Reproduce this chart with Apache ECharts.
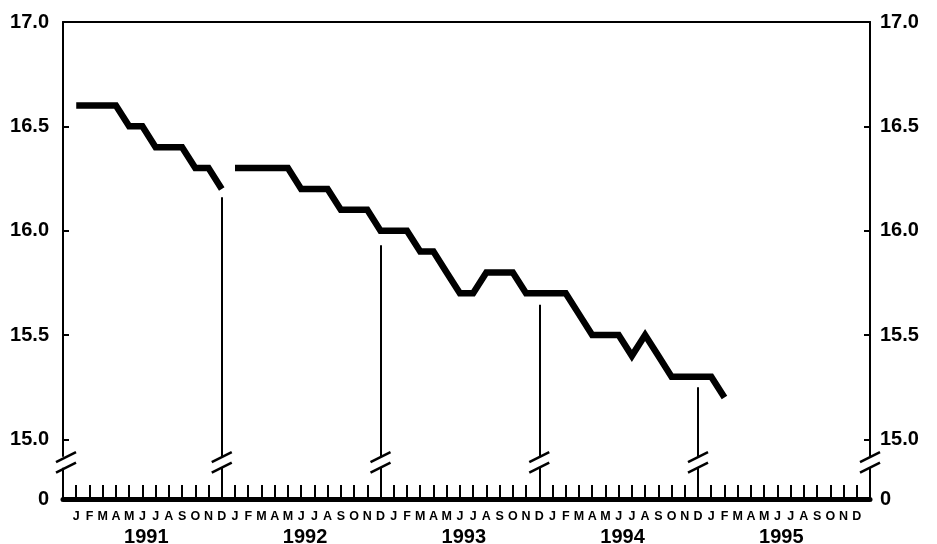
<!DOCTYPE html>
<html>
<head>
<meta charset="utf-8">
<script src="https://cdn.jsdelivr.net/npm/echarts@6/dist/echarts.min.js"></script>
<style>
html,body{margin:0;padding:0;background:#fff;}
#c{width:937px;height:544px;}
</style>
</head>
<body>
<div id="c"></div>
<script>
// ---- data (month index: 1 = Jan 1991 ... 60 = Dec 1995) ----
var monthLetters = ['J','F','M','A','M','J','J','A','S','O','N','D'];
var years = ['1991','1992','1993','1994','1995'];
var values1991 = [16.6,16.6,16.6,16.6,16.5,16.5,16.4,16.4,16.4,16.3,16.3,16.2];
var values1992 = [16.3,16.3,16.3,16.3,16.3,16.2,16.2,16.2,16.1,16.1,16.1,16.0];
var values1993 = [16.0,16.0,15.9,15.9,15.8,15.7,15.7,15.8,15.8,15.8,15.7,15.7];
var values1994 = [15.7,15.7,15.6,15.5,15.5,15.5,15.4,15.5,15.4,15.3,15.3,15.3];
var values1995 = [15.3,15.2];
var yTicks = [15.0,15.5,16.0,16.5,17.0];
var dividerMonths = [12,24,36,48];
var dividerTops = [16.16,15.93,15.645,15.25];
var breakMonths = [0,12,24,36,48,61];
var breakValue = 14.89;

// ---- scales ----
var yMax = 17.0;
var yMin = 14.714;   // position of the "0" baseline below the break
var xMin = 0, xMax = 61;

function toPairs(vals, startIdx){
  return vals.map(function(v,i){ return [startIdx + i, v]; });
}
var s1 = toPairs(values1991, 1);
var s2 = toPairs([].concat(values1992, values1993, values1994, values1995), 13);

var monthTicks = [];
for (var m = 1; m <= 60; m++) monthTicks.push(m);
var yearPos = years.map(function(y,i){ return 6.3 + 12*i; });

var font = '"Liberation Sans", Arial, sans-serif';

var chart = echarts.init(document.getElementById('c'), null, {renderer:'canvas'});

var dividerLines = dividerMonths.map(function(m,i){
  return [{coord:[m, dividerTops[i]]},{coord:[m, yMin]}];
});

var option = {
  animation:false,
  backgroundColor:'#fff',
  grid:{left:63, right:67, top:22, bottom:45, containLabel:false, outerBoundsMode:'none'},
  xAxis:[
    {
      type:'value', min:xMin, max:xMax, position:'bottom',
      axisLine:{show:true, onZero:false, lineStyle:{color:'#000', width:5}},
      axisTick:{show:true, inside:true, length:14, customValues:monthTicks, lineStyle:{color:'#000', width:2}},
      axisLabel:{show:true, customValues:monthTicks, margin:11,
        fontFamily:font, fontWeight:'bold', fontSize:12.5, color:'#000',
        formatter:function(v){ return monthLetters[(Math.round(v)-1)%12]; }},
      splitLine:{show:false}
    },
    {
      type:'value', min:xMin, max:xMax, position:'bottom',
      axisLine:{show:false}, axisTick:{show:false},
      axisLabel:{show:true, customValues:yearPos, margin:28,
        fontFamily:font, fontWeight:'bold', fontSize:20, color:'#000',
        formatter:function(v){ return years[Math.round((v-6.3)/12)]; }},
      splitLine:{show:false}
    },
    {
      type:'value', min:xMin, max:xMax, position:'top',
      axisLine:{show:true, onZero:false, lineStyle:{color:'#000', width:2}},
      axisTick:{show:false}, axisLabel:{show:false}, splitLine:{show:false}
    }
  ],
  yAxis:[
    {
      type:'value', min:yMin, max:yMax, position:'left',
      axisLine:{show:true, onZero:false, lineStyle:{color:'#000', width:2}},
      axisTick:{show:true, inside:true, length:6, customValues:yTicks, lineStyle:{color:'#000', width:2}},
      axisLabel:{show:true, customValues:[yMin].concat(yTicks), margin:14,
        fontFamily:font, fontWeight:'bold', fontSize:20, color:'#000',
        formatter:function(v){ return v < 14.95 ? '0' : v.toFixed(1); }},
      splitLine:{show:false}
    },
    {
      type:'value', min:yMin, max:yMax, position:'right',
      axisLine:{show:true, onZero:false, lineStyle:{color:'#000', width:2}},
      axisTick:{show:true, inside:true, length:6, customValues:yTicks, lineStyle:{color:'#000', width:2}},
      axisLabel:{show:true, customValues:[yMin].concat(yTicks), margin:10,
        fontFamily:font, fontWeight:'bold', fontSize:20, color:'#000',
        formatter:function(v){ return v < 14.95 ? '0' : v.toFixed(1); }},
      splitLine:{show:false}
    }
  ],
  series:[
    {
      type:'line', xAxisIndex:0, yAxisIndex:0, data:s1, symbol:'none',
      lineStyle:{color:'#000', width:6.5, cap:'butt', join:'miter'},
      z:5,
      markLine:{
        silent:true, symbol:['none','none'], label:{show:false},
        lineStyle:{color:'#000', width:2, type:'solid'},
        data:dividerLines, z:3
      }
    },
    {
      type:'line', xAxisIndex:0, yAxisIndex:0, data:s2, symbol:'none',
      lineStyle:{color:'#000', width:6.5, cap:'butt', join:'miter'},
      z:5
    }
  ]
};
chart.setOption(option);

// ---- axis break marks ----
var gfx = [];
breakMonths.forEach(function(m, i){
  var p = chart.convertToPixel({xAxisIndex:0, yAxisIndex:0}, [m, breakValue]);
  var cx = p[0] + (i === 0 ? 3 : 0), cy = p[1];
  var ax = p[0];
  gfx.push({type:'rect', z:100, shape:{x:ax-3, y:cy-5.5, width:6, height:11}, style:{fill:'#fff'}});
  [-5.25, 5.25].forEach(function(off){
    gfx.push({type:'line', z:101,
      shape:{x1:cx-10, y1:cy+off+5, x2:cx+10, y2:cy+off-5},
      style:{stroke:'#000', lineWidth:2.5}});
  });
});
chart.setOption({graphic:{elements:gfx}});
</script>
</body>
</html>
